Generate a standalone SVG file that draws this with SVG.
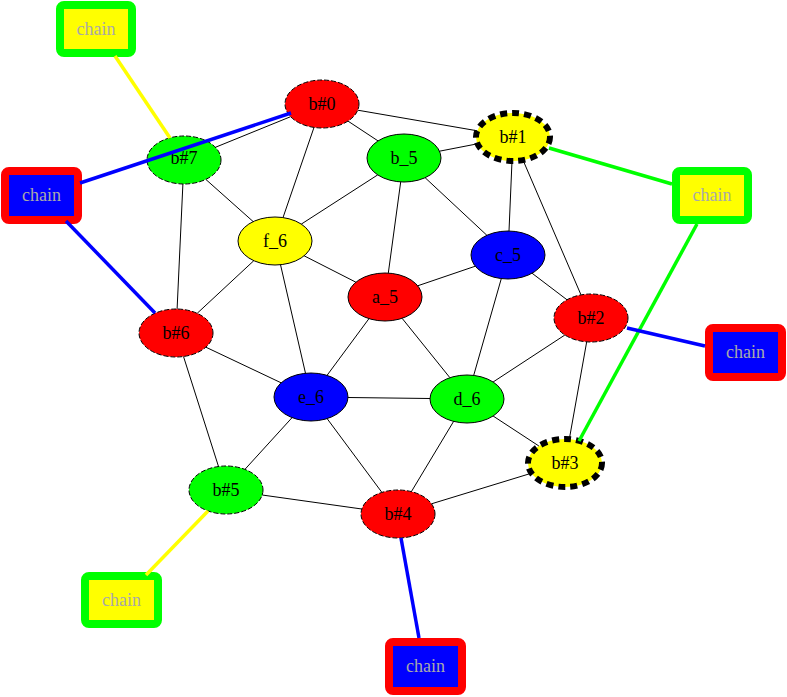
<svg xmlns="http://www.w3.org/2000/svg" width="787" height="697" viewBox="0 0 787 697">
<style>
text{font-family:"Liberation Serif","Times New Roman",serif;font-size:18px;text-anchor:middle}
.n ellipse{stroke:#000;stroke-width:1}
.d{stroke-dasharray:5,2}
.bd{stroke-width:6 !important;stroke-dasharray:7,5}
.c rect{stroke-width:8}
.c text{fill:#a9a9a9}
.e line{stroke:#000;stroke-width:1}
.e .t{stroke-width:3.5}
</style>
<rect width="787" height="697" fill="#fff"/>
<g id="nodes">
<g id="b0" class="n"><ellipse class="d" cx="322" cy="104" rx="37" ry="24" fill="#f00"/><text x="322" y="110">b#0</text></g>
<g id="b1" class="n"><ellipse class="bd" cx="513" cy="137" rx="37" ry="24" fill="#ff0"/><text x="513" y="143">b#1</text></g>
<g id="b_5" class="n"><ellipse cx="404" cy="158" rx="37" ry="24" fill="#0f0"/><text x="404" y="164">b_5</text></g>
<g id="b7" class="n"><ellipse class="d" cx="184" cy="160" rx="37" ry="24" fill="#0f0"/><text x="184" y="164">b#7</text></g>
<g id="f_6" class="n"><ellipse cx="275" cy="241" rx="37" ry="24" fill="#ff0"/><text x="275" y="247">f_6</text></g>
<g id="c_5" class="n"><ellipse cx="508" cy="255" rx="37" ry="24" fill="#00f"/><text x="508" y="261">c_5</text></g>
<g id="a_5" class="n"><ellipse cx="385" cy="297" rx="37" ry="24" fill="#f00"/><text x="385" y="303">a_5</text></g>
<g id="b2" class="n"><ellipse class="d" cx="591" cy="318" rx="37" ry="24" fill="#f00"/><text x="591" y="324">b#2</text></g>
<g id="b6" class="n"><ellipse class="d" cx="176" cy="333" rx="37" ry="24" fill="#f00"/><text x="176" y="339">b#6</text></g>
<g id="e_6" class="n"><ellipse cx="311" cy="397" rx="37" ry="24" fill="#00f"/><text x="311" y="403">e_6</text></g>
<g id="d_6" class="n"><ellipse cx="467" cy="399" rx="37" ry="24" fill="#0f0"/><text x="467" y="405">d_6</text></g>
<g id="b3" class="n"><ellipse class="bd" cx="565" cy="463" rx="37" ry="24" fill="#ff0"/><text x="565" y="469">b#3</text></g>
<g id="b5" class="n"><ellipse class="d" cx="226" cy="490" rx="37" ry="24" fill="#0f0"/><text x="226" y="496">b#5</text></g>
<g id="b4" class="n"><ellipse class="d" cx="398" cy="514" rx="37" ry="24" fill="#f00"/><text x="398" y="520">b#4</text></g>
<g id="chain1" class="c"><rect x="60" y="5" width="72" height="48" rx="4" fill="#ff0" stroke="#0f0"/><text x="96" y="35">chain</text></g>
<g id="chain2" class="c"><rect x="5" y="171" width="73" height="49" rx="4" fill="#00f" stroke="#f00"/><text x="41.5" y="201">chain</text></g>
<g id="chain3" class="c"><rect x="676" y="171" width="72" height="49" rx="4" fill="#ff0" stroke="#0f0"/><text x="712" y="201">chain</text></g>
<g id="chain4" class="c"><rect x="709" y="328" width="73" height="49" rx="4" fill="#00f" stroke="#f00"/><text x="745.5" y="358">chain</text></g>
<g id="chain5" class="c"><rect x="85" y="576" width="73" height="48" rx="4" fill="#ff0" stroke="#0f0"/><text x="121.5" y="606">chain</text></g>
<g id="chain6" class="c"><rect x="389" y="642" width="73" height="49" rx="4" fill="#00f" stroke="#f00"/><text x="425.5" y="672">chain</text></g>
</g>
<g id="connectors" class="e">
<line x1="357.8" y1="110.2" x2="477.3" y2="130.8"/>
<line x1="348" y1="121.1" x2="378" y2="140.9"/>
<line x1="290.6" y1="116.7" x2="215.4" y2="147.3"/>
<line x1="314" y1="127.4" x2="283" y2="217.6"/>
<line x1="439.5" y1="151.2" x2="477.5" y2="143.8"/>
<line x1="377.7" y1="174.9" x2="301.3" y2="224.1"/>
<line x1="400.7" y1="181.9" x2="388.3" y2="273.1"/>
<line x1="425.1" y1="177.7" x2="486.9" y2="235.3"/>
<line x1="512" y1="161" x2="509" y2="231"/>
<line x1="523" y1="160.1" x2="581" y2="294.9"/>
<line x1="205.8" y1="179.4" x2="253.2" y2="221.6"/>
<line x1="182.9" y1="184" x2="177.1" y2="309"/>
<line x1="253.8" y1="260.7" x2="197.2" y2="313.3"/>
<line x1="304.1" y1="255.8" x2="355.9" y2="282.2"/>
<line x1="280.5" y1="264.7" x2="305.5" y2="373.3"/>
<line x1="475.3" y1="266.2" x2="417.7" y2="285.8"/>
<line x1="532" y1="273.2" x2="567" y2="299.8"/>
<line x1="501.3" y1="278.6" x2="473.7" y2="375.4"/>
<line x1="369" y1="318.6" x2="327" y2="375.4"/>
<line x1="402.1" y1="318.3" x2="449.9" y2="377.7"/>
<line x1="564.9" y1="335" x2="493.1" y2="382"/>
<line x1="586.7" y1="341.8" x2="569.3" y2="439.2"/>
<line x1="205.9" y1="347.2" x2="281.1" y2="382.8"/>
<line x1="183.5" y1="356.5" x2="218.5" y2="466.5"/>
<line x1="348" y1="397.5" x2="430" y2="398.5"/>
<line x1="292.1" y1="417.6" x2="244.9" y2="469.4"/>
<line x1="327.1" y1="418.6" x2="381.9" y2="492.4"/>
<line x1="453.6" y1="421.4" x2="411.4" y2="491.6"/>
<line x1="493.1" y1="416" x2="538.9" y2="446"/>
<line x1="262.2" y1="495" x2="361.8" y2="509"/>
<line x1="431.5" y1="503.8" x2="531.5" y2="473.2"/>
<line class="t" x1="115" y1="56" x2="170" y2="138" style="stroke:#ff0"/>
<line class="t" x1="291" y1="113" x2="80" y2="183" style="stroke:#00f"/>
<line class="t" x1="66" y1="221" x2="155" y2="313" style="stroke:#00f"/>
<line class="t" x1="549" y1="148" x2="672" y2="184" style="stroke:#0f0"/>
<line class="t" x1="697" y1="224" x2="579" y2="441" style="stroke:#0f0"/>
<line class="t" x1="627" y1="328" x2="705" y2="346" style="stroke:#00f"/>
<line class="t" x1="208" y1="511" x2="146" y2="575" style="stroke:#ff0"/>
<line class="t" x1="401" y1="538" x2="419" y2="638" style="stroke:#00f"/>
</g>
</svg>
